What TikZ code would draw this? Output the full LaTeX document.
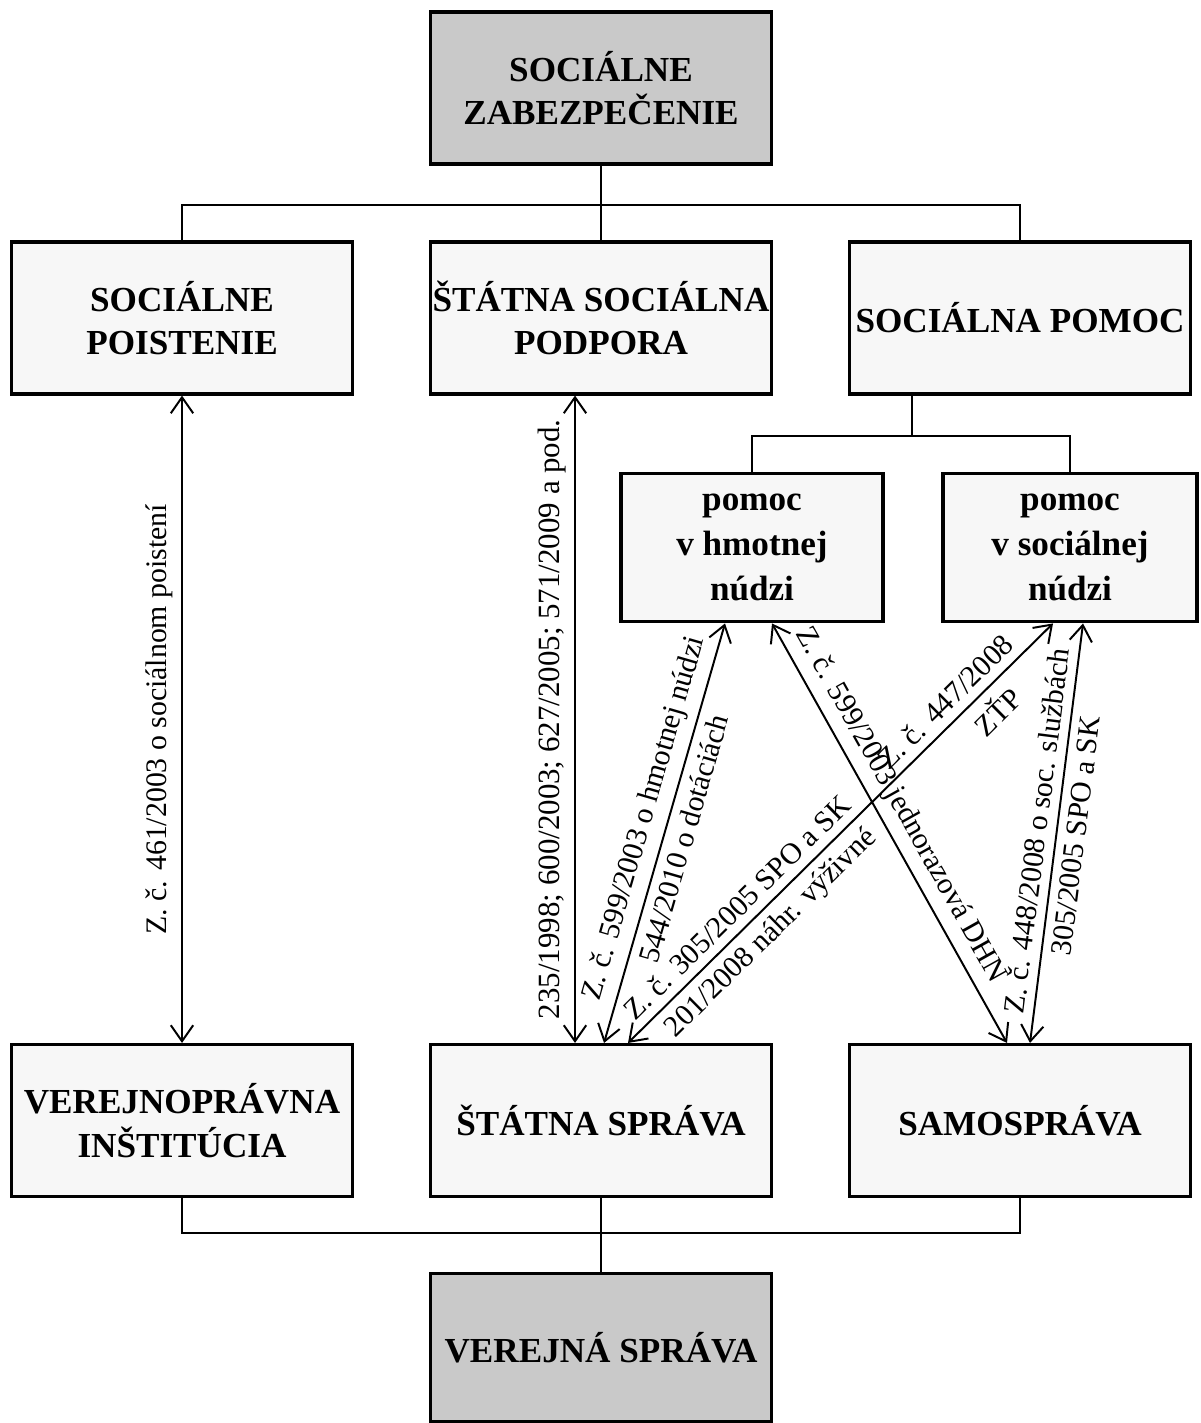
\documentclass[tikz,border=0pt]{standalone}
\usepackage{fontspec}
\setmainfont{Liberation Serif}
\usepackage{tikz}
\usetikzlibrary{arrows.meta,calc,positioning}

\begin{document}
\begin{tikzpicture}[x=0.125mm,y=-0.125mm,>={Straight Barb[length=2mm,width=2.8mm]},line width=0.7pt]
\tikzstyle{box}=[draw,line width=1.1pt,fill=gray!6,align=center,inner sep=0pt,minimum width=42.6mm,minimum height=19mm,font=\bfseries\fontsize{12.5}{15.5}\selectfont]
\tikzstyle{head}=[box,fill=black!21]
\tikzstyle{sub}=[box,minimum height=18.6mm,font=\bfseries\fontsize{12.5}{16}\selectfont]
\tikzstyle{law}=[<->]
\tikzstyle{lbl}=[font=\fontsize{10.6}{13}\selectfont,sloped,inner sep=3pt]

\useasboundingbox (0,0) rectangle (1200,1423);

\node[head] (zab) at (601,88) {SOCIÁLNE\\ZABEZPEČENIE};

\node[box] (pois) at (182,318) {SOCIÁLNE\\POISTENIE};
\node[box] (podp) at (601,318) {ŠTÁTNA SOCIÁLNA\\PODPORA};
\node[box] (pomoc) at (1020,318) {SOCIÁLNA POMOC};

\node[sub,minimum width=32.75mm] (hmot) at (752,547.5) {pomoc\\v hmotnej\\núdzi};
\node[sub,minimum width=31.75mm] (soc) at (1070,547.5) {pomoc\\v sociálnej\\núdzi};

\node[box] (inst) at (182,1120.5) {VEREJNOPRÁVNA\\INŠTITÚCIA};
\node[box] (stat) at (601,1120.5) {ŠTÁTNA SPRÁVA};
\node[box] (sam) at (1020,1120.5) {SAMOSPRÁVA};

\node[head,minimum height=18.4mm] (verej) at (601,1347.5) {VEREJNÁ SPRÁVA};

\draw (zab.south) -- (podp.north);
\draw (zab.south) -- ++(0,39) -| (pois.north);
\draw (zab.south) -- ++(0,39) -| (pomoc.north);
\draw ($(pomoc.south)+(-108,0)$) -- ++(0,40) -| (hmot.north);
\draw ($(pomoc.south)+(-108,0)$) -- ++(0,40) -| (soc.north);

\draw (verej.north) -- (stat.south);
\draw (verej.north) -- ++(0,-39) -| (inst.south);
\draw (verej.north) -- ++(0,-39) -| (sam.south);

\draw[law] (inst.north) -- node[lbl,above]{Z. č. 461/2003 o sociálnom poistení} (pois.south);
\draw[law] ($(stat.north)+(-26,0)$) -- node[lbl,above,font=\fontsize{11}{13}\selectfont]{235/1998; 600/2003; 627/2005; 571/2009 a pod.} ($(podp.south)+(-26,0)$);
\draw[law] ($(stat.north)+(3,0)$) -- node[lbl,above,pos=.52]{Z. č. 599/2003 o hmotnej núdzi} node[lbl,below,pos=.5]{544/2010 o dotáciách} ($(hmot.south)+(-27,0)$);
\draw[law] ($(stat.north)+(27,0)$) -- node[lbl,above,pos=.29]{Z. č. 305/2005 SPO a SK} node[lbl,below,pos=.3]{201/2008 náhr. výživné} node[lbl,above,pos=.78]{Z. č. 447/2008} node[lbl,below,pos=.83]{ZŤP} ($(soc.south)+(-17,0)$);
\draw[law] ($(hmot.south)+(20,0)$) -- node[lbl,above,pos=.46]{Z. č. 599/2003 jednorazová DHN} ($(sam.north)+(-13,0)$);
\draw[law] ($(sam.north)+(10,0)$) -- node[lbl,above]{Z. č. 448/2008 o soc. službách} node[lbl,below]{305/2005 SPO a SK} ($(soc.south)+(13,0)$);
\end{tikzpicture}
\end{document}
